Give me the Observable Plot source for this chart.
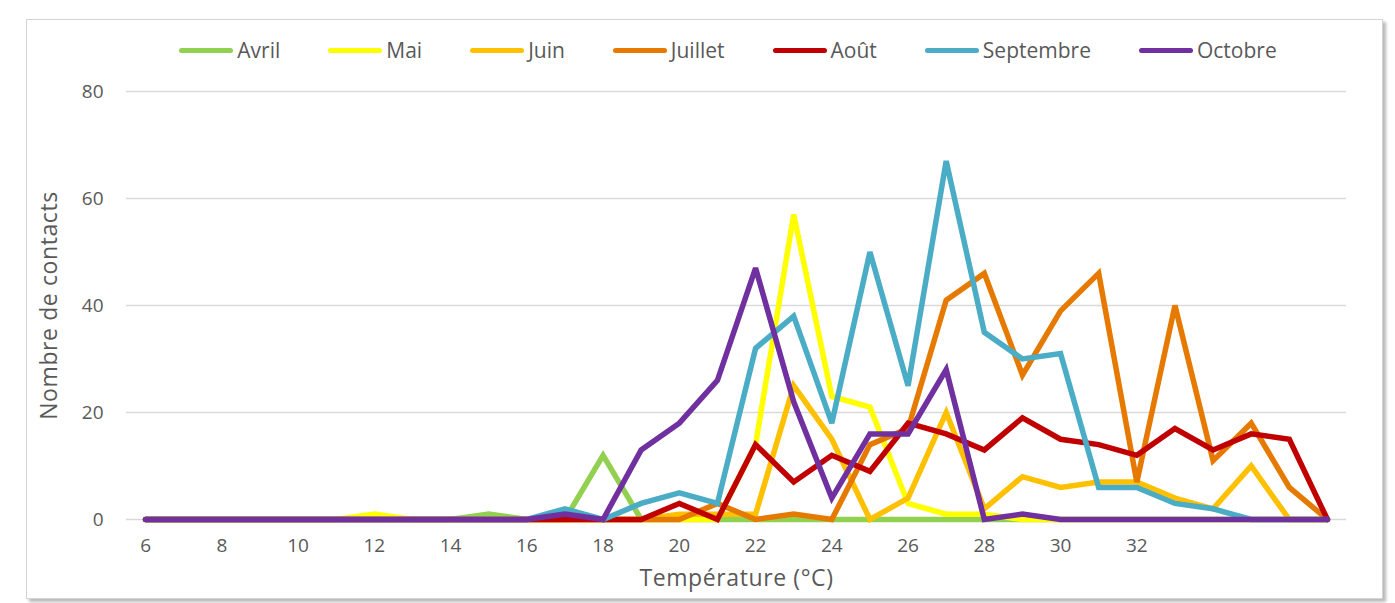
<!DOCTYPE html>
<html>
<head>
<meta charset="utf-8">
<script src="https://cdn.jsdelivr.net/npm/d3@7"></script>
<script src="https://cdn.jsdelivr.net/npm/@observablehq/plot@0.6"></script>
<style>
  html, body { margin: 0; padding: 0; background: #fff; }
  #wrap { position: relative; width: 1395px; height: 603px; overflow: hidden; font-family: "Open Sans", sans-serif; }
  #frame { position: absolute; left: 26px; top: 19px; width: 1355px; height: 578px; border: 1px solid #d4d4d4; box-shadow: 3px 3px 3px rgba(0,0,0,0.28); pointer-events: none; z-index: 2; }
  #chart { position: absolute; left: 0; top: 0; z-index: 1; }
  #legend { position: absolute; top: 36px; left: 118px; width: 1220px; display: flex; justify-content: center; gap: 48px; z-index: 3; font-size: 21px; color: #595959; }
  .item { display: flex; align-items: center; gap: 4px; }
  .sw { width: 54px; height: 5px; border-radius: 3px; }
</style>
</head>
<body>
<div id="wrap">
  <div id="frame"></div>
  <div id="legend"></div>
  <div id="chart"></div>
</div>
<script>
const temperatures = [6,7,8,9,10,11,12,13,14,15,16,17,18,19,20,21,22,23,24,25,26,27,28,29,30,31,32,33,34,35,36,37];
const months = ["Avril","Mai","Juin","Juillet","Août","Septembre","Octobre"];
const colors = ["#92D050","#FFFF00","#FFC000","#E67A00","#C00000","#4BACC6","#7030A0"];
const xTicks = [6,8,10,12,14,16,18,20,22,24,26,28,30,32];
const yTicks = [0,20,40,60,80];

const avril     = [0,0,0,0,0,0,0,0,0,1,0,0,12,0,0,0,0,0,0,0,0,0,0,0,0,0,0,0,0,0,0,0];
const mai       = [0,0,0,0,0,0,1,0,0,0,0,0,0,0,0,0,14,57,23,21,3,1,1,0,0,0,0,0,0,0,0,0];
const juin      = [0,0,0,0,0,0,0,0,0,0,0,0,0,0,1,1,1,25,15,0,4,20,2,8,6,7,7,4,2,10,0,0];
const juillet   = [0,0,0,0,0,0,0,0,0,0,0,0,0,0,0,3,0,1,0,14,17,41,46,27,39,46,7,40,11,18,6,0];
const aout      = [0,0,0,0,0,0,0,0,0,0,0,0,0,0,3,0,14,7,12,9,18,16,13,19,15,14,12,17,13,16,15,0];
const septembre = [0,0,0,0,0,0,0,0,0,0,0,2,0,3,5,3,32,38,18,50,25,67,35,30,31,6,6,3,2,0,0,0];
const octobre   = [0,0,0,0,0,0,0,0,0,0,0,1,0,13,18,26,47,22,4,16,16,28,0,1,0,0,0,0,0,0,0,0];

const seriesValues = [avril, mai, juin, juillet, aout, septembre, octobre];
const data = [];
months.forEach((m, i) => {
  temperatures.forEach((t, j) => data.push({mois: m, temp: t, contacts: seriesValues[i][j]}));
});

const legend = document.getElementById("legend");
months.forEach((m, i) => {
  const it = document.createElement("div");
  it.className = "item";
  it.innerHTML = `<span class="sw" style="background:${colors[i]}"></span><span>${m}</span>`;
  legend.appendChild(it);
});

const chart = Plot.plot({
  width: 1395,
  height: 603,
  marginLeft: 126,
  marginRight: 49,
  marginTop: 91,
  marginBottom: 84,
  style: {fontFamily: "'Open Sans', sans-serif", fontSize: "19px", color: "#595959", background: "transparent"},
  x: {domain: [5.5, 37.5]},
  y: {domain: [0, 80]},
  color: {domain: months, range: colors},
  marks: [
    Plot.ruleY(yTicks, {stroke: "#d9d9d9", strokeWidth: 1.5}),
    Plot.axisY({ticks: yTicks, tickSize: 0, tickPadding: 23, label: null, fontSize: 19}),
    Plot.axisY({ticks: [], label: "Nombre de contacts", labelAnchor: "center", labelOffset: 86, labelArrow: "none", fontSize: 23}),
    Plot.axisX({ticks: xTicks, tickSize: 0, tickPadding: 19, tickFormat: d => String(d), label: null, fontSize: 19}),
    Plot.axisX({ticks: [], label: "Température (°C)", labelAnchor: "center", labelOffset: 66, labelArrow: "none", fontSize: 23}),
    Plot.line(data, {x: "temp", y: "contacts", z: "mois", stroke: "mois", strokeWidth: 5.5, strokeLinejoin: "miter", strokeMiterlimit: 3, strokeLinecap: "round"})
  ]
});
d3.select(chart).selectAll('g[aria-label="x-axis label"] text, g[aria-label="y-axis label"] text')
  .style("letter-spacing", "0.6px");
document.getElementById("chart").appendChild(chart);
</script>
</body>
</html>
